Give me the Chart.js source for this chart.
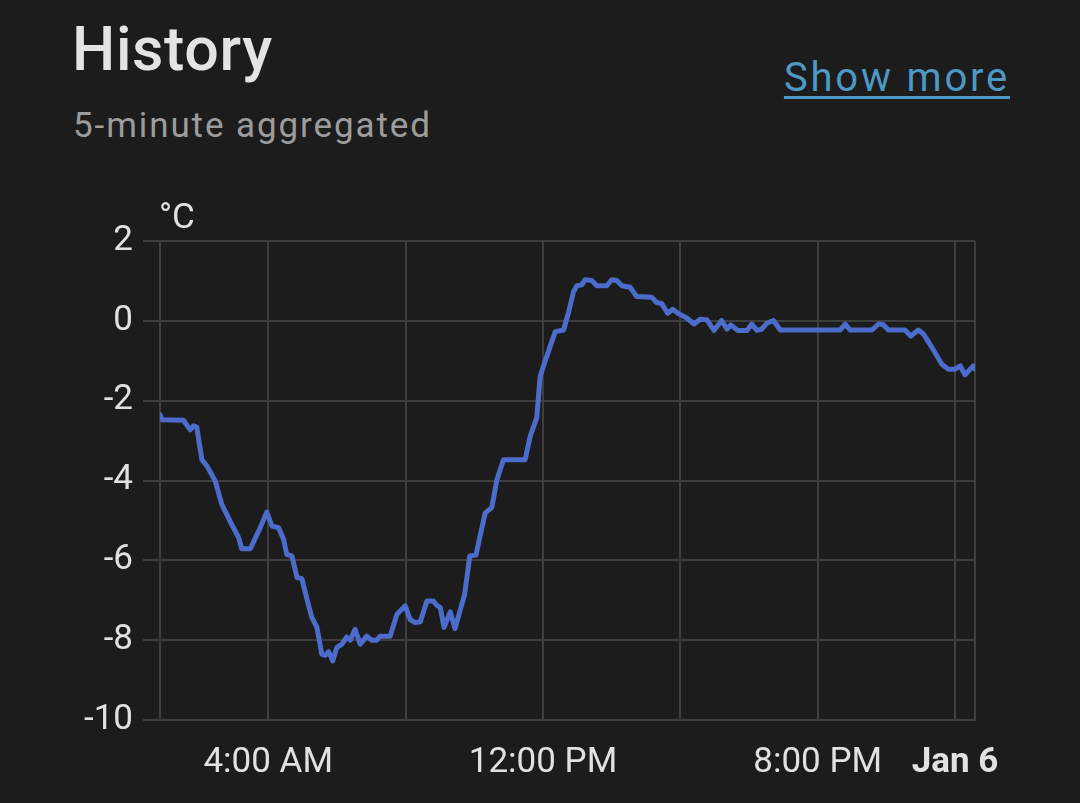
<!DOCTYPE html>
<html>
<head>
<meta charset="utf-8">
<script src="https://cdn.jsdelivr.net/npm/chart.js@4"></script>
<style>
  html, body { margin: 0; padding: 0; background: #1c1c1c; width: 1080px; height: 803px; overflow: hidden; font-family: Roboto, sans-serif; }
  .title { position: absolute; left: 72px; top: 19px; font-size: 61px; line-height: 1; font-weight: 500; letter-spacing: 0.6px; color: #e3e3e3; }
  .sub { position: absolute; left: 73px; top: 107.5px; font-size: 35px; line-height: 1; letter-spacing: 1.9px; color: #9c9c9c; }
  .more { position: absolute; right: 70px; top: 58px; font-size: 40px; line-height: 1; letter-spacing: 2.8px; color: #4d98c4; text-decoration: underline; text-decoration-thickness: 3px; text-underline-offset: 5px; }
  #wrap { position: absolute; left: 0; top: 180px; width: 1080px; height: 623px; }
</style>
</head>
<body>
<div class="title">History</div>
<div class="sub">5-minute aggregated</div>
<div class="more">Show more</div>
<div id="wrap"><canvas id="chart"></canvas></div>
<script>
// hours since Jan 5 00:00
const hours = [0.85, 0.91, 1.53, 1.73, 1.83, 1.92, 2.07, 2.22, 2.46, 2.65, 2.89, 3.14, 3.23, 3.48, 3.77, 3.96,
  4.11, 4.30, 4.45, 4.54, 4.69, 4.84, 4.98, 5.13, 5.27, 5.42, 5.56, 5.66, 5.76, 5.88, 6.00, 6.15,
  6.29, 6.39, 6.53, 6.68, 6.87, 7.02, 7.16, 7.26, 7.55, 7.75, 7.99, 8.13, 8.28, 8.43, 8.62, 8.81,
  8.91, 9.01, 9.12, 9.30, 9.44, 9.72, 9.87, 10.05, 10.19, 10.32, 10.51, 10.66, 10.85, 11.48, 11.63,
  11.82, 11.92, 12.06, 12.21, 12.36, 12.60, 12.74, 12.89, 12.99, 13.13, 13.23, 13.42, 13.57, 13.86,
  14.00, 14.15, 14.30, 14.54, 14.73, 15.17, 15.31, 15.46, 15.63, 15.78, 15.95, 16.19, 16.40, 16.58,
  16.77, 16.98, 17.20, 17.36, 17.47, 17.67, 17.94, 18.08, 18.23, 18.37, 18.52, 18.71, 18.91, 20.65,
  20.80, 20.94, 21.58, 21.77, 21.91, 22.06, 22.54, 22.71, 22.93, 23.08, 23.22, 23.37, 23.61, 23.80,
  24.00, 24.15, 24.29, 24.44, 24.53, 24.58];
const temps = [-2.35, -2.48, -2.49, -2.73, -2.63, -2.66, -3.48, -3.64, -4.02, -4.6, -5.02, -5.43, -5.71, -5.71, -5.18, -4.79,
  -5.14, -5.18, -5.48, -5.85, -5.89, -6.43, -6.46, -6.98, -7.43, -7.68, -8.35, -8.38, -8.29, -8.52, -8.18, -8.1,
  -7.92, -8.0, -7.73, -8.1, -7.9, -8.0, -8.0, -7.9, -7.9, -7.35, -7.14, -7.48, -7.56, -7.54, -7.02, -7.02,
  -7.13, -7.18, -7.68, -7.29, -7.71, -6.85, -5.89, -5.87, -5.31, -4.81, -4.68, -3.98, -3.48, -3.48, -2.89,
  -2.43, -1.39, -1.02, -0.64, -0.27, -0.23, 0.19, 0.73, 0.88, 0.9, 1.03, 1.01, 0.88, 0.88,
  1.03, 1.01, 0.88, 0.84, 0.61, 0.59, 0.46, 0.43, 0.19, 0.29, 0.18, 0.07, -0.08, 0.04,
  0.03, -0.24, 0.01, -0.21, -0.1, -0.24, -0.24, -0.08, -0.24, -0.21, -0.06, 0.01, -0.23, -0.23,
  -0.08, -0.23, -0.23, -0.08, -0.1, -0.23, -0.23, -0.38, -0.23, -0.33, -0.52, -0.73, -1.08, -1.21,
  -1.21, -1.13, -1.35, -1.21, -1.13, -1.21];

const xMin = 0.85, xMax = 24.58;
const tickHours = [4, 8, 12, 16, 20, 24];
const tickLabels = ['4:00 AM', '', '12:00 PM', '', '8:00 PM', 'Jan 6'];
const unit = '°C';

const gridColor = '#3d3d3d';
const textColor = '#e1e1e1';

// draws the unit above the y axis
const unitLabel = {
  id: 'unitLabel',
  afterDraw(chart) {
    const c = chart.ctx;
    c.save();
    c.font = '35px Roboto';
    c.fillStyle = textColor;
    c.textAlign = 'left';
    c.textBaseline = 'alphabetic';
    c.fillText(unit, chart.chartArea.left - 1, chart.chartArea.top - 13);
    c.restore();
  }
};

new Chart(document.getElementById('chart'), {
  type: 'line',
  data: {
    datasets: [{
      data: hours.map((h, i) => ({ x: h, y: temps[i] })),
      borderColor: '#4c6ccb',
      borderWidth: 5,
      borderJoinStyle: 'round',
      borderCapStyle: 'round',
      pointRadius: 0,
      tension: 0,
      fill: false
    }]
  },
  options: {
    responsive: true,
    maintainAspectRatio: false,
    animation: false,
    layout: { padding: { top: 61, right: 105, left: 0, bottom: 0 } },
    plugins: { legend: { display: false }, tooltip: { enabled: false } },
    scales: {
      x: {
        type: 'linear',
        min: xMin,
        max: xMax,
        afterBuildTicks(scale) {
          scale.ticks = [xMin, ...tickHours, xMax].map(v => ({ value: v }));
        },
        afterFit(scale) { scale.height = 83; },
        grid: { color: gridColor, lineWidth: 2, drawTicks: false },
        border: { color: gridColor, width: 2 },
        ticks: {
          autoSkip: false,
          maxRotation: 0,
          padding: 22,
          color: textColor,
          font: ctx => ({ family: 'Roboto', size: 35, weight: ctx.tick && ctx.tick.value === 24 ? 'bold' : 'normal' }),
          callback: v => {
            const i = tickHours.indexOf(v);
            return i >= 0 ? tickLabels[i] : '';
          }
        }
      },
      y: {
        min: -10,
        max: 2,
        afterFit(scale) { scale.width = 160; },
        grid: { color: gridColor, lineWidth: 2, tickLength: 17 },
        border: { color: gridColor, width: 2 },
        ticks: { stepSize: 2, padding: 10, color: textColor, font: { family: 'Roboto', size: 35 } }
      }
    }
  },
  plugins: [unitLabel]
});
</script>
</body>
</html>
